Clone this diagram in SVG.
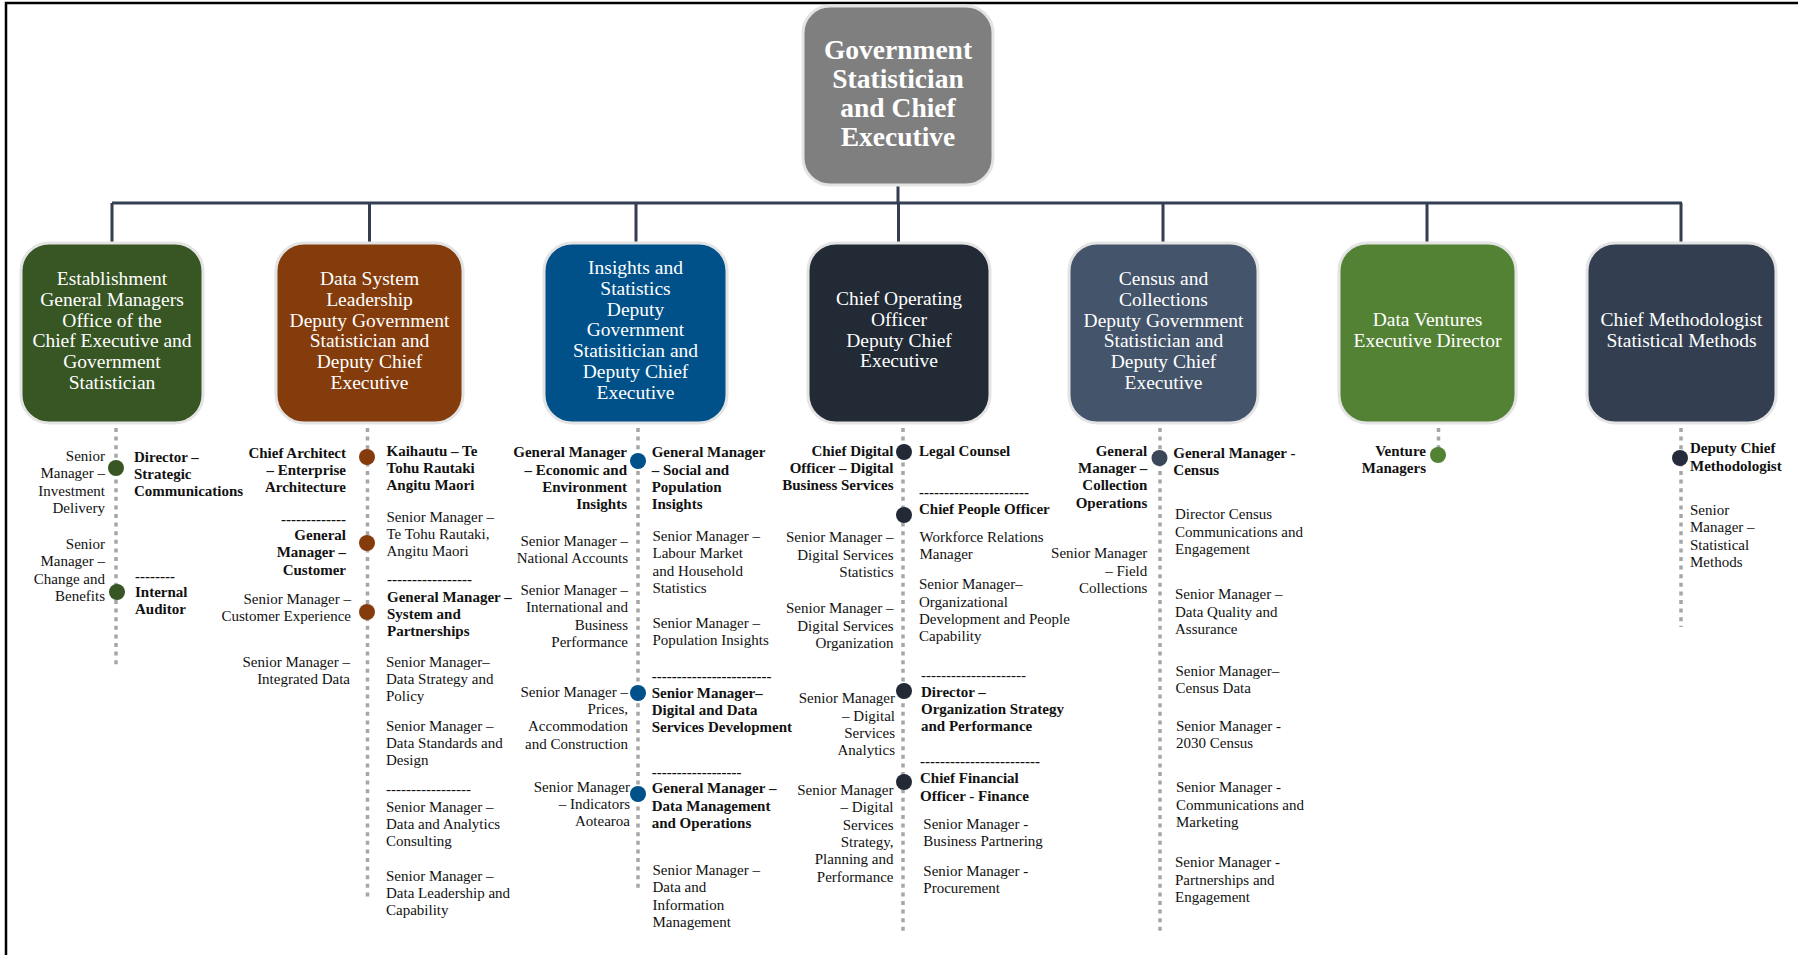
<svg xmlns="http://www.w3.org/2000/svg" width="1798" height="955" viewBox="0 0 1798 955">
<style>
.frame{fill:none;stroke:#000;stroke-width:2.5}
.con{fill:none;stroke:#333f50;stroke-width:3}
.dot{fill:none;stroke:#a6a6a6;stroke-width:3.5;stroke-dasharray:4 4.6}
.box{stroke:#e4e4e4;stroke-width:3}
.bt{fill:#fff;font-family:"Liberation Serif","Times New Roman",serif;font-size:19.5px;text-anchor:middle}
.rt{fill:#fff;font-family:"Liberation Serif","Times New Roman",serif;font-size:27.5px;font-weight:bold;text-anchor:middle}
.t{fill:#111;font-family:"Liberation Serif","Times New Roman",serif;font-size:15px}
.b{font-weight:bold}
.e{text-anchor:end}
</style>
<rect width="1798" height="955" fill="#fff"/>
<path class="frame" d="M6,955 V3 H1798"/>

<g id="connectors">
<path class="con" d="M898,185 V203 M112,203 H1682 M112,203 V243 M369.5,203 V243 M636,203 V243 M898.5,203 V243 M1163,203 V243 M1427,203 V243 M1681,203 V243"/>
<path class="dot" d="M116,428 V668 M367.5,428 V897 M638,428 V892 M903,428 V932 M1160,428 V932 M1438.5,428 V448 M1681,428 V627"/>
</g>

<g id="root">
<rect class="box" x="803" y="6" width="190" height="179" rx="27" fill="#7f7f7f"/>
<text class="rt" x="898" y="59">Government<tspan x="898" dy="29">Statistician</tspan><tspan x="898" dy="29">and Chief</tspan><tspan x="898" dy="29">Executive</tspan></text>
</g>

<g id="n1">
<rect class="box" x="21" y="243" width="182" height="180" rx="28" fill="#375623"/>
<text class="bt" x="112" y="285">Establishment<tspan x="112" dy="20.8">General Managers</tspan><tspan x="112" dy="20.8">Office of the</tspan><tspan x="112" dy="20.8">Chief Executive and</tspan><tspan x="112" dy="20.8">Government</tspan><tspan x="112" dy="20.8">Statistician</tspan></text>
<circle cx="116" cy="468" r="8" fill="#375623"/>
<circle cx="117" cy="592" r="8" fill="#375623"/>
<text class="t e" x="105" y="461">Senior<tspan x="105" dy="17.3">Manager –</tspan><tspan x="105" dy="17.3">Investment</tspan><tspan x="105" dy="17.3">Delivery</tspan></text>
<text class="t e" x="105" y="549">Senior<tspan x="105" dy="17.3">Manager –</tspan><tspan x="105" dy="17.3">Change and</tspan><tspan x="105" dy="17.3">Benefits</tspan></text>
<text class="t b" x="134" y="461.5">Director –<tspan x="134" dy="17.3">Strategic</tspan><tspan x="134" dy="17.3">Communications</tspan></text>
<text class="t b" x="135" y="581">--------</text>
<text class="t b" x="135" y="597">Internal<tspan x="135" dy="17.3">Auditor</tspan></text>
</g>

<g id="n2">
<rect class="box" x="276" y="243" width="187" height="180" rx="28" fill="#843c0c"/>
<text class="bt" x="369.5" y="285">Data System<tspan x="369.5" dy="20.8">Leadership</tspan><tspan x="369.5" dy="20.8">Deputy Government</tspan><tspan x="369.5" dy="20.8">Statistician and</tspan><tspan x="369.5" dy="20.8">Deputy Chief</tspan><tspan x="369.5" dy="20.8">Executive</tspan></text>
<circle cx="367" cy="457" r="8" fill="#843c0c"/>
<circle cx="367" cy="543" r="8" fill="#843c0c"/>
<circle cx="367" cy="612" r="8" fill="#843c0c"/>
<text class="t b e" x="346" y="457.7">Chief Architect<tspan x="346" dy="17.3">– Enterprise</tspan><tspan x="346" dy="17.3">Architecture</tspan></text>
<text class="t b e" x="346" y="524">-------------</text>
<text class="t b e" x="346" y="540">General<tspan x="346" dy="17.3">Manager –</tspan><tspan x="346" dy="17.3">Customer</tspan></text>
<text class="t e" x="351" y="604">Senior Manager –<tspan x="351" dy="17.3">Customer Experience</tspan></text>
<text class="t e" x="350" y="666.7">Senior Manager –<tspan x="350" dy="17.3">Integrated Data</tspan></text>
<text class="t b" x="386.5" y="455.7">Kaihautu – Te<tspan x="386.5" dy="17.3">Tohu Rautaki</tspan><tspan x="386.5" dy="17.3">Angitu Maori</tspan></text>
<text class="t" x="386.5" y="521.7">Senior Manager –<tspan x="386.5" dy="17.3">Te Tohu Rautaki,</tspan><tspan x="386.5" dy="17.3">Angitu Maori</tspan></text>
<text class="t b" x="387" y="584">-----------------</text>
<text class="t b" x="387" y="601.7">General Manager –<tspan x="387" dy="17.3">System and</tspan><tspan x="387" dy="17.3">Partnerships</tspan></text>
<text class="t" x="386" y="666.7">Senior Manager–<tspan x="386" dy="17.3">Data Strategy and</tspan><tspan x="386" dy="17.3">Policy</tspan></text>
<text class="t" x="386" y="730.7">Senior Manager –<tspan x="386" dy="17.3">Data Standards and</tspan><tspan x="386" dy="17.3">Design</tspan></text>
<text class="t" x="386" y="794">-----------------</text>
<text class="t" x="386" y="811.7">Senior Manager –<tspan x="386" dy="17.3">Data and Analytics</tspan><tspan x="386" dy="17.3">Consulting</tspan></text>
<text class="t" x="386" y="880.7">Senior Manager –<tspan x="386" dy="17.3">Data Leadership and</tspan><tspan x="386" dy="17.3">Capability</tspan></text>
</g>

<g id="n3">
<rect class="box" x="544" y="243" width="183" height="180" rx="28" fill="#00518a"/>
<text class="bt" x="635.5" y="274">Insights and<tspan x="635.5" dy="20.8">Statistics</tspan><tspan x="635.5" dy="20.8">Deputy</tspan><tspan x="635.5" dy="20.8">Government</tspan><tspan x="635.5" dy="20.8">Statisitician and</tspan><tspan x="635.5" dy="20.8">Deputy Chief</tspan><tspan x="635.5" dy="20.8">Executive</tspan></text>
<circle cx="638" cy="461" r="8" fill="#00518a"/>
<circle cx="638" cy="693" r="8" fill="#00518a"/>
<circle cx="638" cy="794" r="8" fill="#00518a"/>
<text class="t b e" x="627" y="457.3">General Manager<tspan x="627" dy="17.3">– Economic and</tspan><tspan x="627" dy="17.3">Environment</tspan><tspan x="627" dy="17.3">Insights</tspan></text>
<text class="t e" x="628" y="546">Senior Manager –<tspan x="628" dy="17.3">National Accounts</tspan></text>
<text class="t e" x="628" y="595">Senior Manager –<tspan x="628" dy="17.3">International and</tspan><tspan x="628" dy="17.3">Business</tspan><tspan x="628" dy="17.3">Performance</tspan></text>
<text class="t e" x="628" y="696.7">Senior Manager –<tspan x="628" dy="17.3">Prices,</tspan><tspan x="628" dy="17.3">Accommodation</tspan><tspan x="628" dy="17.3">and Construction</tspan></text>
<text class="t e" x="630" y="791.7">Senior Manager<tspan x="630" dy="17.3">– Indicators</tspan><tspan x="630" dy="17.3">Aotearoa</tspan></text>
<text class="t b" x="651.7" y="457.3">General Manager<tspan x="651.7" dy="17.3">– Social and</tspan><tspan x="651.7" dy="17.3">Population</tspan><tspan x="651.7" dy="17.3">Insights</tspan></text>
<text class="t" x="652.5" y="541">Senior Manager –<tspan x="652.5" dy="17.3">Labour Market</tspan><tspan x="652.5" dy="17.3">and Household</tspan><tspan x="652.5" dy="17.3">Statistics</tspan></text>
<text class="t" x="652.5" y="627.7">Senior Manager –<tspan x="652.5" dy="17.3">Population Insights</tspan></text>
<text class="t b" x="651.7" y="680.7">------------------------</text>
<text class="t b" x="651.7" y="697.7">Senior Manager–<tspan x="651.7" dy="17.3">Digital and Data</tspan><tspan x="651.7" dy="17.3">Services Development</tspan></text>
<text class="t b" x="651.7" y="776.7">------------------</text>
<text class="t b" x="651.7" y="793.3">General Manager –<tspan x="651.7" dy="17.3">Data Management</tspan><tspan x="651.7" dy="17.3">and Operations</tspan></text>
<text class="t" x="652.5" y="875">Senior Manager –<tspan x="652.5" dy="17.3">Data and</tspan><tspan x="652.5" dy="17.3">Information</tspan><tspan x="652.5" dy="17.3">Management</tspan></text>
</g>

<g id="n4">
<rect class="box" x="808" y="243" width="182" height="180" rx="28" fill="#222a35"/>
<text class="bt" x="899" y="305">Chief Operating<tspan x="899" dy="20.8">Officer</tspan><tspan x="899" dy="20.8">Deputy Chief</tspan><tspan x="899" dy="20.8">Executive</tspan></text>
<circle cx="904" cy="452" r="8" fill="#222a35"/>
<circle cx="904" cy="515" r="8" fill="#222a35"/>
<circle cx="904" cy="691" r="8" fill="#222a35"/>
<circle cx="904" cy="782" r="8" fill="#222a35"/>
<text class="t b e" x="893.5" y="455.7">Chief Digital<tspan x="893.5" dy="17.3">Officer – Digital</tspan><tspan x="893.5" dy="17.3">Business Services</tspan></text>
<text class="t e" x="893.5" y="542.3">Senior Manager –<tspan x="893.5" dy="17.3">Digital Services</tspan><tspan x="893.5" dy="17.3">Statistics</tspan></text>
<text class="t e" x="893.5" y="613.3">Senior Manager –<tspan x="893.5" dy="17.3">Digital Services</tspan><tspan x="893.5" dy="17.3">Organization</tspan></text>
<text class="t e" x="895" y="703.3">Senior Manager<tspan x="895" dy="17.3">– Digital</tspan><tspan x="895" dy="17.3">Services</tspan><tspan x="895" dy="17.3">Analytics</tspan></text>
<text class="t e" x="893.5" y="795">Senior Manager<tspan x="893.5" dy="17.3">– Digital</tspan><tspan x="893.5" dy="17.3">Services</tspan><tspan x="893.5" dy="17.3">Strategy,</tspan><tspan x="893.5" dy="17.3">Planning and</tspan><tspan x="893.5" dy="17.3">Performance</tspan></text>
<text class="t b" x="919" y="455.7">Legal Counsel</text>
<text class="t b" x="919" y="496.7">----------------------</text>
<text class="t b" x="919" y="514.3">Chief People Officer</text>
<text class="t" x="919.5" y="541.7">Workforce Relations<tspan x="919.5" dy="17.3">Manager</tspan></text>
<text class="t" x="919" y="589.3">Senior Manager–<tspan x="919" dy="17.3">Organizational</tspan><tspan x="919" dy="17.3">Development and People</tspan><tspan x="919" dy="17.3">Capability</tspan></text>
<text class="t" x="921" y="680">---------------------</text>
<text class="t b" x="921" y="696.7">Director –<tspan x="921" dy="17.3">Organization Strategy</tspan><tspan x="921" dy="17.3">and Performance</tspan></text>
<text class="t b" x="920" y="766.3">------------------------</text>
<text class="t b" x="920" y="783.3">Chief Financial<tspan x="920" dy="17.3">Officer - Finance</tspan></text>
<text class="t" x="923.3" y="829">Senior Manager -<tspan x="923.3" dy="17.3">Business Partnering</tspan></text>
<text class="t" x="923.3" y="876">Senior Manager -<tspan x="923.3" dy="17.3">Procurement</tspan></text>
</g>

<g id="n5">
<rect class="box" x="1069" y="243" width="189" height="180" rx="28" fill="#44546a"/>
<text class="bt" x="1163.5" y="285">Census and<tspan x="1163.5" dy="20.8">Collections</tspan><tspan x="1163.5" dy="20.8">Deputy Government</tspan><tspan x="1163.5" dy="20.8">Statistician and</tspan><tspan x="1163.5" dy="20.8">Deputy Chief</tspan><tspan x="1163.5" dy="20.8">Executive</tspan></text>
<circle cx="1159.5" cy="458" r="8" fill="#3b4758"/>
<text class="t b e" x="1147.3" y="455.7">General<tspan x="1147.3" dy="17.3">Manager –</tspan><tspan x="1147.3" dy="17.3">Collection</tspan><tspan x="1147.3" dy="17.3">Operations</tspan></text>
<text class="t e" x="1147.3" y="558.3">Senior Manager<tspan x="1147.3" dy="17.3">– Field</tspan><tspan x="1147.3" dy="17.3">Collections</tspan></text>
<text class="t b" x="1173.3" y="457.7">General Manager -<tspan x="1173.3" dy="17.3">Census</tspan></text>
<text class="t" x="1175" y="519.3">Director Census<tspan x="1175" dy="17.3">Communications and</tspan><tspan x="1175" dy="17.3">Engagement</tspan></text>
<text class="t" x="1175" y="599.3">Senior Manager –<tspan x="1175" dy="17.3">Data Quality and</tspan><tspan x="1175" dy="17.3">Assurance</tspan></text>
<text class="t" x="1175.5" y="676">Senior Manager–<tspan x="1175.5" dy="17.3">Census Data</tspan></text>
<text class="t" x="1176" y="731">Senior Manager -<tspan x="1176" dy="17.3">2030 Census</tspan></text>
<text class="t" x="1176" y="792.3">Senior Manager -<tspan x="1176" dy="17.3">Communications and</tspan><tspan x="1176" dy="17.3">Marketing</tspan></text>
<text class="t" x="1175" y="867.3">Senior Manager -<tspan x="1175" dy="17.3">Partnerships and</tspan><tspan x="1175" dy="17.3">Engagement</tspan></text>
</g>

<g id="n6">
<rect class="box" x="1339" y="243" width="177" height="180" rx="28" fill="#548235"/>
<text class="bt" x="1427.5" y="326">Data Ventures<tspan x="1427.5" dy="20.8">Executive Director</tspan></text>
<circle cx="1438" cy="455" r="8" fill="#548235"/>
<text class="t b e" x="1426" y="456">Venture<tspan x="1426" dy="17.3">Managers</tspan></text>
</g>

<g id="n7">
<rect class="box" x="1587" y="243" width="189" height="180" rx="28" fill="#333f50"/>
<text class="bt" x="1681.5" y="326">Chief Methodologist<tspan x="1681.5" dy="20.8">Statistical Methods</tspan></text>
<circle cx="1680" cy="458" r="8" fill="#262a3d"/>
<text class="t b" x="1690" y="453.3">Deputy Chief<tspan x="1690" dy="17.3">Methodologist</tspan></text>
<text class="t" x="1690" y="515">Senior<tspan x="1690" dy="17.3">Manager –</tspan><tspan x="1690" dy="17.3">Statistical</tspan><tspan x="1690" dy="17.3">Methods</tspan></text>
</g>
</svg>
